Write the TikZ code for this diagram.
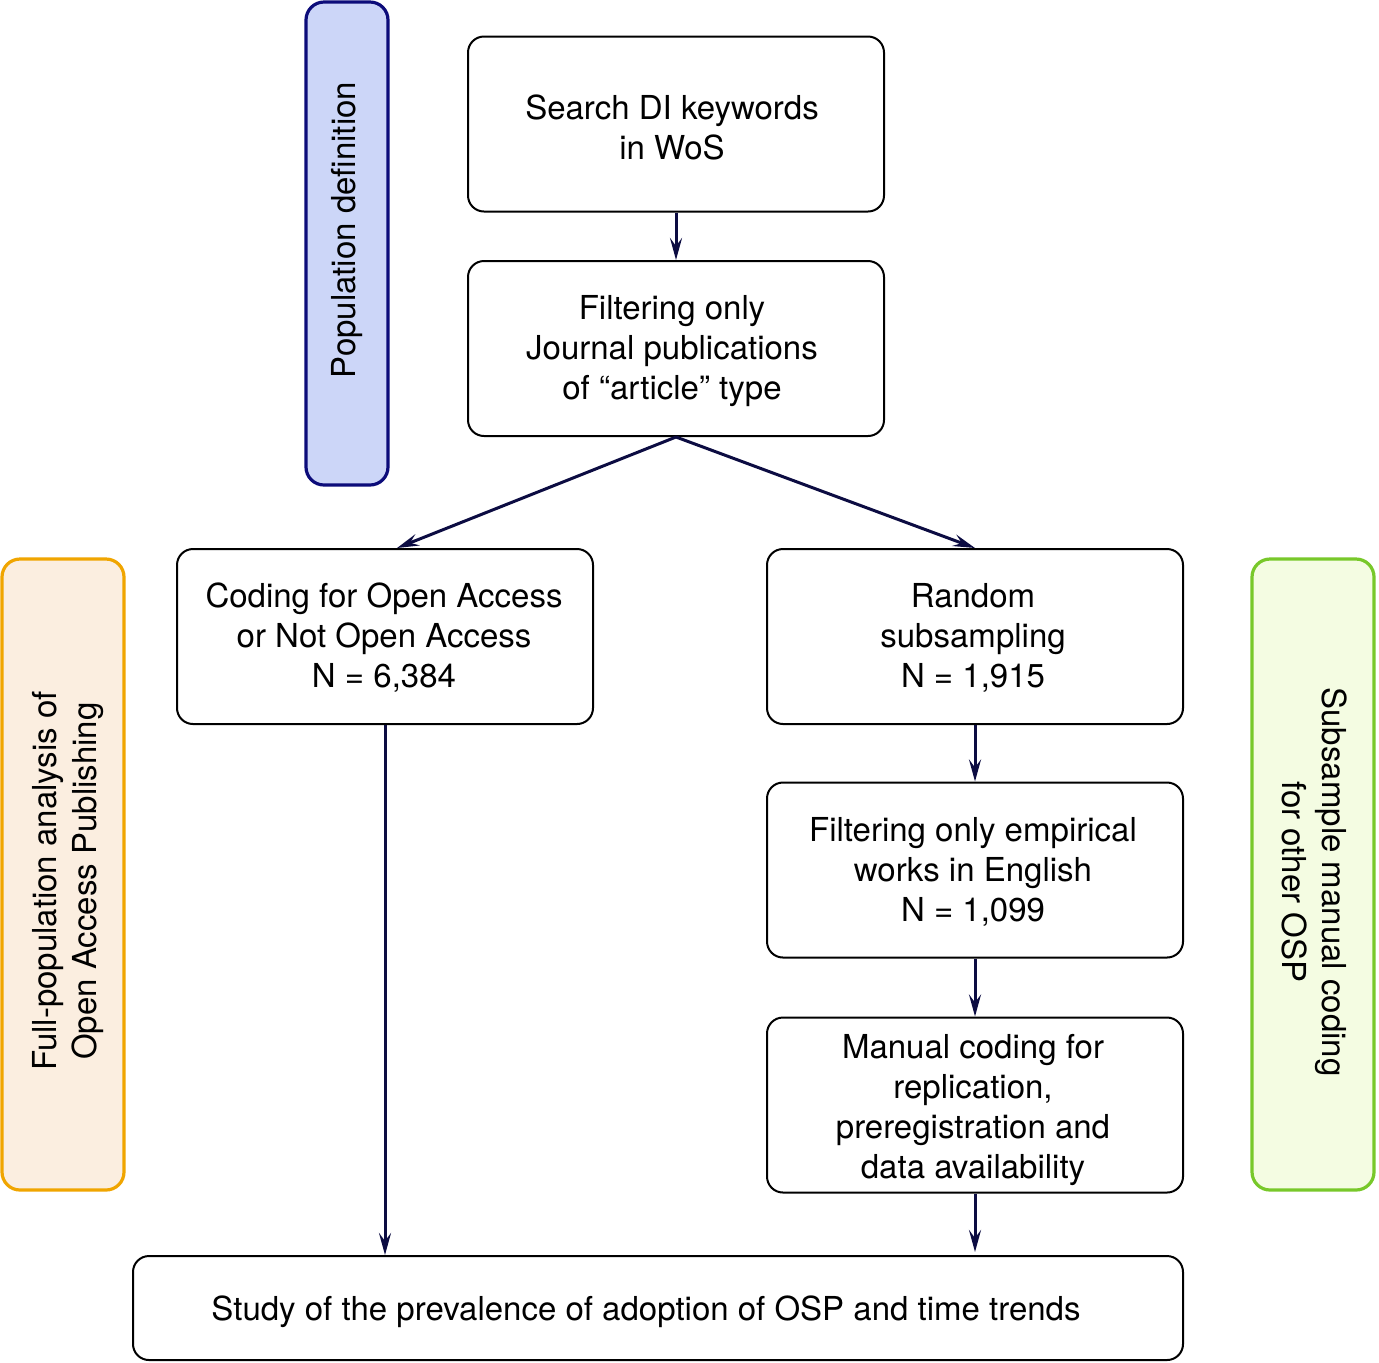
\documentclass[tikz,border=0pt]{standalone}
\usepackage{fontspec}
\setmainfont{TeX Gyre Heros}
\usetikzlibrary{arrows.meta,calc}
\definecolor{arrowc}{HTML}{0C0C42}
\definecolor{bluefill}{HTML}{CCD6F8}
\definecolor{blueline}{HTML}{0C0C7A}
\definecolor{orangefill}{HTML}{FBEEE0}
\definecolor{orangeline}{HTML}{F0A500}
\definecolor{greenfill}{HTML}{F4FCE2}
\definecolor{greenline}{HTML}{78C82A}
\tikzset{
  stepbox/.style={draw=black, line width=1pt, rounded corners=8pt, minimum width=208pt, minimum height=87.5pt, inner sep=0pt},
  steptext/.style={align=center, inner sep=0pt, font=\fontsize{16.5}{20}\selectfont},
  sidebox/.style={line width=1.6pt, rounded corners=9pt, inner sep=0pt},
  sidetext/.style={align=center, font=\fontsize{16.5}{20}\selectfont},
  flow/.style={draw=arrowc, line width=1.5pt, -{Stealth[length=11pt,width=6pt,inset=4pt]}}
}
\begin{document}
\begin{tikzpicture}[x=0.5pt,y=-0.5pt]
\useasboundingbox (0,0) rectangle (1379,1362);
% side boxes
\node[sidebox, draw=blueline, fill=bluefill, minimum width=41pt, minimum height=241.5pt] (pop) at (347,243.5) {};
\node[sidetext, rotate=90] (poptext) at (347,230) {Population definition};
\node[sidebox, draw=orangeline, fill=orangefill, minimum width=61pt, minimum height=315.5pt] (full) at (63,874.5) {};
\node[sidetext, rotate=90] (fulltext) at (68,881) {Full-population analysis of\\Open Access Publishing};
\node[sidebox, draw=greenline, fill=greenfill, minimum width=61pt, minimum height=315.5pt] (sub) at (1313,874.5) {};
\node[sidetext, rotate=-90] (subtext) at (1315,882) {Subsample manual coding\\for other OSP};
% steps
\node[stepbox] (search) at (676,124) {};
\node[steptext] (searcht) at (672,127) {Search DI keywords\\in WoS};
\node[stepbox] (filt) at (676,348.5) {};
\node[steptext] (filtt) at (672,351) {Filtering only\\Journal publications\\of “article” type};
\node[stepbox] (coding) at (385,636.5) {};
\node[steptext] (codingt) at (384,638) {Coding for Open Access\\or Not Open Access\\N = 6,384};
\node[stepbox] (random) at (975,636.5) {};
\node[steptext] (randomt) at (973,638) {Random\\subsampling\\N = 1,915};
\node[stepbox] (emp) at (975,870) {};
\node[steptext] (empt) at (973,872) {Filtering only empirical\\works in English\\N = 1,099};
\node[stepbox] (manual) at (975,1105) {};
\node[steptext] (manualt) at (973,1110) {Manual coding for\\replication,\\preregistration and\\data availability};
\node[stepbox, minimum width=525pt, minimum height=52pt] (study) at (658,1308) {};
\node[steptext] (studyt) at (646,1312) {Study of the prevalence of adoption of OSP and time trends};
% connectors
\draw[flow] (search.south) -- (filt.north);
\draw[flow] (filt.south) -- ([xshift=6pt]coding.north);
\draw[flow] (filt.south) -- (random.north);
\draw[flow] (coding.south) -- (coding.south |- study.north);
\draw[flow] (random.south) -- (emp.north);
\draw[flow] (emp.south) -- (manual.north);
\draw[flow] (manual.south) -- ([yshift=1.5pt]manual.south |- study.north);
\end{tikzpicture}
\end{document}
